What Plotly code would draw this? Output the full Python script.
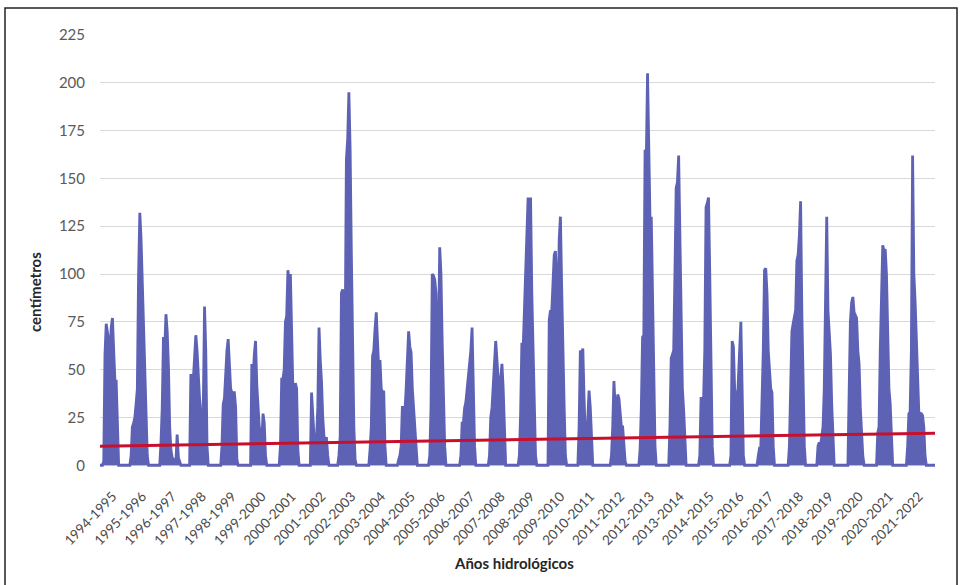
import plotly.graph_objects as go

# Hydrological-year labels
years = ["1994-1995", "1995-1996", "1996-1997", "1997-1998", "1998-1999", "1999-2000",
         "2000-2001", "2001-2002", "2002-2003", "2003-2004", "2004-2005", "2005-2006",
         "2006-2007", "2007-2008", "2008-2009", "2009-2010", "2010-2011", "2011-2012",
         "2012-2013", "2013-2014", "2014-2015", "2015-2016", "2016-2017", "2017-2018",
         "2018-2019", "2019-2020", "2020-2021", "2021-2022"]

# Snow depth (cm), 24 half-month readings per hydrological year (Oct 1 -> Sep 30)
y1994 = [0, 0, 0, 2, 58, 74, 70, 65, 60, 72, 77, 60, 44, 44, 15, 0, 0, 0, 0, 0, 0, 0, 0, 0]
y1995 = [0, 5, 20, 22, 25, 32, 40, 100, 132, 118, 95, 70, 40, 20, 5, 0, 0, 0, 0, 0, 0, 0, 0, 0]
y1996 = [0, 12, 30, 67, 60, 79, 70, 52, 20, 8, 4, 3, 3, 2, 16, 4, 2, 0, 0, 0, 0, 0, 0, 0]
y1997 = [0, 47, 47, 45, 55, 68, 60, 45, 35, 28, 25, 30, 83, 60, 10, 0, 0, 0, 0, 0, 0, 0, 0, 0]
y1998 = [0, 0, 10, 32, 35, 50, 60, 66, 48, 40, 38, 38, 38, 30, 3, 0, 0, 0, 0, 0, 0, 0, 0, 0]
y1999 = [0, 0, 53, 45, 58, 65, 42, 28, 20, 18, 12, 27, 22, 5, 0, 0, 0, 0, 0, 0, 0, 0, 0, 0]
y2000 = [0, 10, 45, 45, 50, 75, 78, 102, 95, 100, 70, 40, 35, 43, 40, 8, 0, 0, 0, 0, 0, 0, 0, 0]
y2001 = [0, 0, 38, 25, 15, 12, 14, 30, 72, 55, 44, 25, 15, 14, 14, 5, 0, 0, 0, 0, 0, 0, 0, 0]
y2002 = [5, 15, 90, 92, 50, 65, 160, 170, 195, 165, 110, 55, 20, 3, 0, 0, 0, 0, 0, 0, 0, 0, 0, 0]
y2003 = [0, 8, 20, 57, 60, 71, 80, 65, 50, 55, 40, 38, 39, 10, 0, 0, 0, 0, 0, 0, 0, 0, 0, 0]
y2004 = [3, 5, 10, 31, 22, 28, 40, 55, 70, 62, 59, 40, 29, 20, 5, 0, 0, 0, 0, 0, 0, 0, 0, 0]
y2005 = [0, 5, 30, 100, 99, 97, 90, 60, 65, 114, 100, 64, 35, 10, 0, 0, 0, 0, 0, 0, 0, 0, 0, 0]
y2006 = [0, 0, 5, 22, 22, 30, 33, 40, 45, 50, 60, 72, 34, 10, 0, 0, 0, 0, 0, 0, 0, 0, 0, 0]
y2007 = [0, 5, 25, 30, 40, 50, 65, 55, 44, 35, 45, 53, 40, 12, 0, 0, 0, 0, 0, 0, 0, 0, 0, 0]
y2008 = [0, 5, 27, 64, 60, 80, 102, 115, 140, 132, 140, 90, 60, 30, 5, 0, 0, 0, 0, 0, 0, 0, 0, 0]
y2009 = [0, 76, 81, 80, 100, 110, 112, 90, 80, 118, 130, 93, 55, 30, 5, 0, 0, 0, 0, 0, 0, 0, 0, 0]
y2010 = [0, 20, 60, 58, 61, 35, 15, 10, 25, 39, 30, 10, 0, 0, 0, 0, 0, 0, 0, 0, 0, 0, 0, 0]
y2011 = [0, 0, 0, 5, 20, 44, 30, 25, 37, 35, 28, 20, 20, 10, 2, 0, 0, 0, 0, 0, 0, 0, 0, 0]
y2012 = [0, 0, 8, 30, 67, 68, 165, 160, 205, 150, 128, 130, 89, 50, 10, 0, 0, 0, 0, 0, 0, 0, 0, 0]
y2013 = [0, 0, 20, 56, 58, 60, 100, 145, 148, 162, 120, 69, 40, 29, 10, 0, 0, 0, 0, 0, 0, 0, 0, 0]
y2014 = [0, 0, 5, 35, 35, 34, 60, 135, 137, 140, 100, 60, 10, 0, 0, 0, 0, 0, 0, 0, 0, 0, 0, 0]
y2015 = [0, 0, 0, 5, 65, 62, 40, 35, 30, 45, 60, 75, 40, 5, 0, 0, 0, 0, 0, 0, 0, 0, 0, 0]
y2016 = [0, 5, 9, 9, 30, 60, 102, 103, 90, 60, 50, 40, 38, 10, 0, 0, 0, 0, 0, 0, 0, 0, 0, 0]
y2017 = [0, 0, 10, 38, 70, 74, 78, 81, 107, 110, 120, 138, 80, 40, 10, 0, 0, 0, 0, 0, 0, 0, 0, 0]
y2018 = [0, 10, 12, 10, 15, 20, 40, 100, 130, 81, 70, 58, 32, 10, 0, 0, 0, 0, 0, 0, 0, 0, 0, 0]
y2019 = [0, 0, 38, 75, 85, 88, 80, 78, 77, 60, 53, 30, 17, 5, 0, 0, 0, 0, 0, 0, 0, 0, 0, 0]
y2020 = [0, 17, 20, 60, 85, 115, 112, 113, 100, 76, 40, 32, 10, 0, 0, 0, 0, 0, 0, 0, 0, 0, 0, 0]
y2021 = [0, 10, 27, 28, 60, 162, 100, 86, 67, 40, 28, 27, 27, 26, 20, 5, 0, 0, 0, 0, 0, 0, 0, 0]

seasons = [y1994, y1995, y1996, y1997, y1998, y1999, y2000, y2001, y2002, y2003,
           y2004, y2005, y2006, y2007, y2008, y2009, y2010, y2011, y2012, y2013,
           y2014, y2015, y2016, y2017, y2018, y2019, y2020, y2021]

# Linear trend (cm) at the start and end of the record
trend_values = [10.0, 16.8]

BLUE = "#5D62B5"
RED = "#C8102E"

xs, ys = [], []
for k, season in enumerate(seasons):
    n = len(season)
    for j, v in enumerate(season):
        xs.append(k + j / n)
        ys.append(v)

fig = go.Figure()
fig.add_trace(go.Scatter(
    x=xs, y=ys, mode="lines",
    line=dict(color=BLUE, width=2.8),
    fill="tozeroy", fillcolor=BLUE,
    hoverinfo="skip", showlegend=False,
))
fig.add_trace(go.Scatter(
    x=[0, xs[-1]], y=trend_values, mode="lines",
    line=dict(color=RED, width=3),
    showlegend=False,
))

W, H = 961, 585
YMIN, YMAX = -3, 225
L, R, T = 100, 26, 35
B = 585 - 471
pw, ph = W - L - R, H - T - B


def ypaper(py):
    return (H - B - py) / ph


fig.update_layout(
    width=W, height=H,
    margin=dict(l=L, r=R, t=T, b=B),
    paper_bgcolor="white", plot_bgcolor="white",
    font=dict(family="Lato, Open Sans, sans-serif", color="#595959"),
    xaxis=dict(
        range=[0, xs[-1]],
        tickmode="array",
        tickvals=[k + 0.42 for k in range(len(years))],
        ticktext=years,
        tickangle=-46,
        tickfont=dict(size=13.5, color="#4a4a4a"),
        showgrid=False, zeroline=False, showline=False,
        ticks="", ticklabelstandoff=14,
    ),
    yaxis=dict(
        range=[YMIN, YMAX],
        tickvals=[0, 25, 50, 75, 100, 125, 150, 175, 200, 225],
        tickfont=dict(size=15, color="#595959"),
        showgrid=True, gridcolor="#D9D9D9", gridwidth=1,
        zeroline=False, showline=False,
        ticks="", ticklabelstandoff=14,
    ),
    annotations=[
        dict(text="<b>centímetros</b>", textangle=-90, showarrow=False,
             xref="paper", yref="paper", x=(35 - L) / pw, y=ypaper(292),
             xanchor="center", yanchor="middle",
             font=dict(size=15, color="#262626")),
        dict(text="<b>Años hidrológicos</b>", showarrow=False,
             xref="paper", yref="paper", x=(514 - L) / pw, y=ypaper(563),
             xanchor="center", yanchor="middle",
             font=dict(size=15, color="#262626")),
    ],
    shapes=[
        dict(type="rect", xref="paper", yref="paper",
             x0=(5 - L) / pw, x1=(957 - L) / pw,
             y0=ypaper(600), y1=ypaper(8),
             line=dict(color="#222222", width=1.5), fillcolor="rgba(0,0,0,0)",
             layer="below"),
    ],
)

fig.write_html("out.html")
